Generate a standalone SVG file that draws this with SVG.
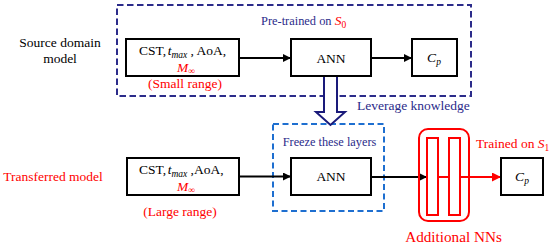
<svg xmlns="http://www.w3.org/2000/svg" width="550" height="248" viewBox="0 0 550 248">
<defs>
<style>
text{font-family:"Liberation Serif","Times New Roman","DejaVu Serif",serif;font-size:13.5px;fill:#000}
.red{fill:#ff0000}
.navy{fill:#2b2b8a}
.it{font-style:italic}
.sub{font-size:9.5px}
.box{fill:#fff;stroke:#000;stroke-width:2}
.rbox{fill:none;stroke:#ff0000;stroke-width:2}
.line{stroke:#000;stroke-width:2;fill:none}
.rline{stroke:#ff0000;stroke-width:2;fill:none}
</style>
<marker id="ah" viewBox="0 0 10 10" refX="10" refY="5" markerWidth="9" markerHeight="8" markerUnits="userSpaceOnUse" orient="auto"><path d="M0,0 L10,5 L0,10 z" fill="#000"/></marker>
<marker id="ahr" viewBox="0 0 10 10" refX="10" refY="5" markerWidth="10" markerHeight="9" markerUnits="userSpaceOnUse" orient="auto"><path d="M0,0 L10,5 L0,10 z" fill="#ff0000"/></marker>
</defs>
<rect width="550" height="248" fill="#fff"/>

<g id="source-region">
<rect x="117" y="5" width="354" height="91" fill="none" stroke="#2b2b8a" stroke-width="2" stroke-dasharray="6.5,3.5"/>
<text x="261" y="25" class="navy" style="font-size:12.4px">Pre-trained on <tspan class="red it" style="font-size:13.5px">S</tspan><tspan class="red sub" dy="3">0</tspan></text>
<text x="357" y="110" class="navy">Leverage knowledge</text>
</g>

<g id="freeze-region">
<rect x="273" y="124" width="111" height="87" fill="none" stroke="#1e6fd0" stroke-width="2" stroke-dasharray="6,3.5"/>
<text x="329.5" y="146" class="navy" text-anchor="middle" style="font-size:12.3px">Freeze these layers</text>
</g>

<g id="label-source">
<text x="60" y="47" text-anchor="middle">Source domain</text>
<text x="60" y="63" text-anchor="middle">model</text>
</g>
<g id="label-transferred">
<text x="53" y="181" text-anchor="middle" class="red">Transferred model</text>
</g>

<g id="connectors">
<line x1="239" y1="58" x2="291" y2="58" class="line" marker-end="url(#ah)"/>
<line x1="371" y1="58" x2="412" y2="58" class="line" marker-end="url(#ah)"/>
<line x1="239" y1="176.5" x2="291" y2="176.5" class="line" marker-end="url(#ah)"/>
<line x1="371" y1="177" x2="427" y2="177" class="line" marker-end="url(#ah)"/>
<line x1="438" y1="177" x2="448" y2="177" class="rline"/>
<line x1="460" y1="177" x2="501" y2="177" class="rline" marker-end="url(#ahr)"/>
<path id="leverage-arrow" d="M324,76 L324,112 L316,112 L330.5,125 L345,112 L337,112 L337,76" fill="#fff" stroke="#1a1a7a" stroke-width="2" stroke-linejoin="miter"/>
</g>

<g id="input-source">
<rect x="126" y="39" width="113" height="37" class="box"/>
<text x="139" y="55">CST,<tspan class="it" dx="1.5">t</tspan><tspan class="it sub" dy="2.5">max</tspan><tspan dy="-2.5"> , AoA,</tspan></text>
<text x="186" y="72" text-anchor="middle" class="red"><tspan class="it">M</tspan><tspan class="sub" dy="2">∞</tspan></text>
<text x="185" y="88" text-anchor="middle" class="red">(Small range)</text>
</g>

<g id="ann-source">
<rect x="291" y="39" width="80" height="37" class="box"/>
<text x="331" y="63" text-anchor="middle">ANN</text>
</g>

<g id="cp-source">
<rect x="412" y="39" width="45" height="37" class="box"/>
<text x="434" y="62" text-anchor="middle"><tspan class="it">C</tspan><tspan class="it sub" dy="3">p</tspan></text>
</g>

<g id="input-transferred">
<rect x="127" y="158" width="112" height="37" class="box"/>
<text x="139" y="174">CST,<tspan class="it" dx="1.5">t</tspan><tspan class="it sub" dy="2.5">max</tspan><tspan dy="-2.5"> ,AoA,</tspan></text>
<text x="186" y="191" text-anchor="middle" class="red"><tspan class="it">M</tspan><tspan class="sub" dy="1.5">∞</tspan></text>
<text x="180" y="216" text-anchor="middle" class="red">(Large range)</text>
</g>

<g id="ann-transferred">
<rect x="291" y="158" width="80" height="37" class="box"/>
<text x="331" y="181" text-anchor="middle">ANN</text>
</g>

<g id="additional-nns">
<rect x="419" y="129" width="50" height="92" rx="9" ry="9" class="rbox"/>
<rect x="427" y="138" width="11" height="77" class="rbox"/>
<rect x="449" y="138" width="11" height="77" class="rbox"/>
<text x="453.5" y="242" text-anchor="middle" class="red" style="font-size:15.2px">Additional NNs</text>
</g>

<g id="trained-label">
<text x="476" y="148" class="red">Trained on <tspan class="it">S</tspan><tspan class="sub" dy="3">1</tspan></text>
</g>

<g id="cp-transferred">
<rect x="501" y="158" width="42" height="37" class="box"/>
<text x="522" y="181" text-anchor="middle"><tspan class="it">C</tspan><tspan class="it sub" dy="3">p</tspan></text>
</g>
</svg>
